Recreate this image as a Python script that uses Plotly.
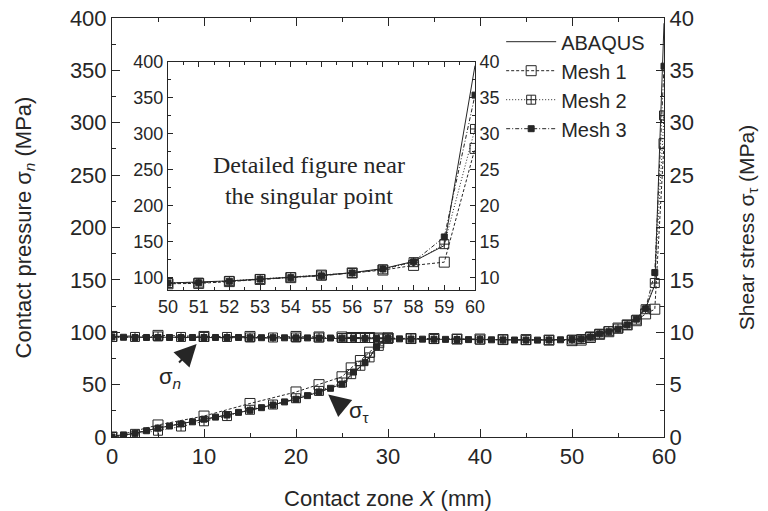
import plotly.graph_objects as go

# ---------------- data ----------------
# Contact pressure sigma_n (MPa, left axis)
abaqus_x = [0, 5, 10, 15, 20, 25, 30, 35, 40, 45, 50, 51, 52, 53, 54, 55, 56, 57, 58, 59, 60]
abaqus_p = [95.5, 95, 95, 94.8, 94.6, 94.3, 93.8, 93.3, 93, 92.6, 93, 94, 96, 98.5, 101, 103.5,
            107.5, 113, 123, 145, 395]

mesh1_x = [0, 5, 10, 15, 20, 22.5, 25, 26, 27, 28, 29, 30, 32.5, 35, 37.5, 40, 42.5, 45, 47.5,
           50, 51, 52, 53, 54, 55, 56, 57, 58, 59, 60]
mesh1_p = [96, 97, 96, 96, 96, 95.5, 95.5, 95, 95, 95, 94.5, 94.5, 94, 94, 93.5, 93.5, 93, 93, 92.5,
           92, 92.5, 95, 98, 100.5, 104, 107, 111, 117.5, 122, 280]

mesh2_x = [0, 2.5, 5, 7.5, 10, 12.5, 15, 17.5, 20, 22.5, 25, 26, 27, 28, 29, 30, 32.5, 35, 37.5,
           40, 42.5, 45, 47.5, 50, 51, 52, 53, 54, 55, 56, 57, 58, 59, 60]
mesh2_p = [95.5, 95.5, 96, 95.5, 95.5, 95.5, 95, 95, 95, 95, 94.5, 94.5, 94.5, 94.5, 94, 94, 94,
           93.5, 93.5, 93, 93, 92.5, 92.5, 93, 93.5, 96, 98.5, 101, 103.5, 107, 112, 122, 147, 307]

mesh3_x = [0, 1.25, 2.5, 3.75, 5, 6.25, 7.5, 8.75, 10, 11.25, 12.5, 13.75, 15, 16.25, 17.5, 18.75,
           20, 21.25, 22.5, 23.75, 25, 26.25, 27.5, 28.75, 30, 31.25, 32.5, 33.75, 35, 36.25, 37.5,
           38.75, 40, 41.25, 42.5, 43.75, 45, 46.25, 47.5, 48.75, 50,
           51, 52, 53, 54, 55, 56, 57, 58, 59, 60]
mesh3_p = [95.5, 95.2, 95, 95, 95, 95, 95, 95, 95, 95, 95, 95, 94.8, 94.8, 94.8, 94.7, 94.7,
           94.6, 94.5, 94.5, 94.4, 94.3, 94.2, 94, 93.8, 93.7, 93.5, 93.4, 93.3, 93.2, 93.1, 93, 93,
           92.8, 92.7, 92.6, 92.5, 92.5, 92.6, 92.8, 93,
           93.5, 95.5, 98.5, 100.5, 103, 107, 112.5, 122.5, 157, 354]

# Shear stress sigma_tau (MPa, right axis), stick zone (beyond it the curves coincide with pressure)
abaqus_sx = [0, 2.5, 5, 7.5, 10, 12.5, 15, 17.5, 20, 22.5, 25, 26, 27, 28, 29, 30]
abaqus_s = [0, 0.35, 0.85, 1.25, 1.7, 2.1, 2.55, 3.05, 3.6, 4.3, 5.05, 5.9, 6.7, 7.6, 8.9, 9.38]

mesh1_sx = [0, 5, 10, 15, 20, 22.5, 25, 26, 27, 28, 29, 30]
mesh1_s = [0, 1.15, 2.0, 3.2, 4.3, 5.0, 5.75, 6.6, 7.3, 8.1, 9.0, 9.45]

mesh2_sx = [0, 2.5, 5, 7.5, 10, 12.5, 15, 17.5, 20, 22.5, 25, 26, 27, 28, 29, 30]
mesh2_s = [0, 0.3, 0.6, 1.0, 1.5, 2.0, 2.6, 3.1, 3.7, 4.4, 5.2, 6.0, 6.8, 7.6, 8.7, 9.4]

mesh3_sx = [0, 1.25, 2.5, 3.75, 5, 6.25, 7.5, 8.75, 10, 11.25, 12.5, 13.75, 15, 16.25, 17.5, 18.75,
            20, 21.25, 22.5, 23.75, 25, 26.25, 27.5, 28.75, 30]
mesh3_s = [0, 0.2, 0.35, 0.6, 0.85, 1.05, 1.25, 1.45, 1.7, 1.9, 2.1, 2.35, 2.55, 2.8, 3.05, 3.35,
           3.6, 3.95, 4.3, 4.65, 5.05, 6.2, 7.1, 8.6, 9.38]

series_names = ["ABAQUS", "Mesh 1", "Mesh 2", "Mesh 3"]

# ---------------- styling ----------------
INK = "#262626"
FONT = "Liberation Sans, Arial, sans-serif"
styles = {
    "ABAQUS": dict(dash="solid", symbol=None, size=0),
    "Mesh 1": dict(dash="3px,2px", symbol="square-open", size=10),
    "Mesh 2": dict(dash="1px,2px", symbol="square-cross-open", size=9),
    "Mesh 3": dict(dash="4px,2px,1px,2px", symbol="square", size=6),
}
press = {"ABAQUS": (abaqus_x, abaqus_p), "Mesh 1": (mesh1_x, mesh1_p),
         "Mesh 2": (mesh2_x, mesh2_p), "Mesh 3": (mesh3_x, mesh3_p)}
shear = {"ABAQUS": (abaqus_sx, abaqus_s), "Mesh 1": (mesh1_sx, mesh1_s),
         "Mesh 2": (mesh2_sx, mesh2_s), "Mesh 3": (mesh3_sx, mesh3_s)}


def trace(name, xs, ys, xaxis, yaxis, legend):
    st = styles[name]
    kw = dict(x=xs, y=ys, name=name, xaxis=xaxis, yaxis=yaxis, showlegend=legend,
              line=dict(color=INK, width=1, dash=st["dash"]))
    if st["symbol"]:
        kw["mode"] = "lines+markers"
        kw["marker"] = dict(symbol=st["symbol"], size=st["size"], color=INK,
                            line=dict(color=INK, width=1))
    else:
        kw["mode"] = "lines"
    return go.Scatter(**kw)


fig = go.Figure()
for n in series_names:
    fig.add_trace(trace(n, *press[n], "x", "y", True))
for n in series_names:
    fig.add_trace(trace(n, *shear[n], "x", "y2", False))
# inset: region near the singular point
for n in series_names:
    xs, ys = press[n]
    xi = [a for a in xs if a >= 50]
    yi = [b for a, b in zip(xs, ys) if a >= 50]
    fig.add_trace(trace(n, xi, yi, "x3", "y3", False))
# helper so the inset's right axis is drawn
fig.add_trace(go.Scatter(x=[50], y=[10], xaxis="x3", yaxis="y4", mode="markers",
                         marker=dict(opacity=0), showlegend=False, hoverinfo="skip"))

tickfont = dict(family=FONT, size=22, color=INK)
inset_tf = dict(family=FONT, size=18, color=INK)
common = dict(showline=True, linecolor=INK, linewidth=1, ticks="inside", tickcolor=INK,
              tickwidth=1, showgrid=False, zeroline=False, automargin=False)

INS_X = [0.1014, 0.6576]
INS_Y = [0.3508, 0.895]

fig.update_layout(
    width=768, height=511,
    margin=dict(l=112, r=104, t=18, b=74),
    paper_bgcolor="white", plot_bgcolor="white",
    font=dict(family=FONT, color=INK),
    xaxis=dict(range=[0, 60], dtick=10, tick0=0, mirror="ticks", tickfont=tickfont, ticklen=8,
               minor=dict(dtick=5, ticks="inside", ticklen=4, tickcolor=INK),
               title=dict(text="Contact zone <i>X</i> (mm)", font=dict(family=FONT, size=22, color=INK),
                          standoff=22),
               **common),
    yaxis=dict(range=[0, 400], dtick=50, tick0=0, tickfont=tickfont, ticklen=8,
               minor=dict(dtick=25, ticks="inside", ticklen=4, tickcolor=INK),
               title=dict(text="Contact pressure σ<sub><i>n</i></sub> (MPa)",
                          font=dict(family=FONT, size=22, color=INK), standoff=32),
               **common),
    yaxis2=dict(range=[0, 40], dtick=5, tick0=0, overlaying="y", side="right", anchor="x",
                tickfont=tickfont, ticklen=8,
                minor=dict(dtick=2.5, ticks="inside", ticklen=4, tickcolor=INK),
                title=dict(text="Shear stress σ<sub>τ</sub> (MPa)",
                           font=dict(family=FONT, size=21, color=INK), standoff=46),
                **common),
    xaxis3=dict(domain=INS_X, anchor="y3", range=[50, 60], dtick=1, tick0=50, mirror="ticks",
                tickfont=inset_tf, ticklen=5,
                minor=dict(dtick=0.5, ticks="inside", ticklen=3, tickcolor=INK),
                **common),
    yaxis3=dict(domain=INS_Y, anchor="x3", range=[83.3, 400], dtick=50, tick0=100,
                tickfont=inset_tf, ticklen=5,
                minor=dict(dtick=25, ticks="inside", ticklen=3, tickcolor=INK),
                **common),
    yaxis4=dict(domain=INS_Y, anchor="x3", overlaying="y3", side="right", range=[8.33, 40],
                dtick=5, tick0=10, tickfont=inset_tf, ticklen=5,
                minor=dict(dtick=2.5, ticks="inside", ticklen=3, tickcolor=INK),
                **common),
    legend=dict(x=0.705, y=0.99, xanchor="left", yanchor="top", bgcolor="rgba(0,0,0,0)",
                font=dict(family=FONT, size=20, color=INK), tracegroupgap=0, itemwidth=50),
    annotations=[
        dict(xref="paper", yref="paper", x=0.357, y=0.613, showarrow=False,
             text="Detailed figure near<br>the singular point",
             font=dict(family="Liberation Serif, Times New Roman, serif", size=24, color=INK)),
        dict(xref="x", yref="y", x=9.2, y=88.8, ax=-19, ay=20, text="", showarrow=True,
             arrowhead=2, arrowsize=2.2, arrowwidth=2, arrowcolor=INK),
        dict(xref="x", yref="y", x=6.3, y=56, text="σ<sub><i>n</i></sub>", showarrow=False,
             font=dict(family=FONT, size=22, color=INK)),
        dict(xref="x", yref="y", x=23.5, y=40.5, ax=17, ay=14, text="", showarrow=True,
             arrowhead=2, arrowsize=2.2, arrowwidth=2, arrowcolor=INK),
        dict(xref="x", yref="y", x=26.8, y=23.5, text="σ<sub>τ</sub>", showarrow=False,
             font=dict(family=FONT, size=22, color=INK)),
    ],
)

fig.write_html("out.html")
